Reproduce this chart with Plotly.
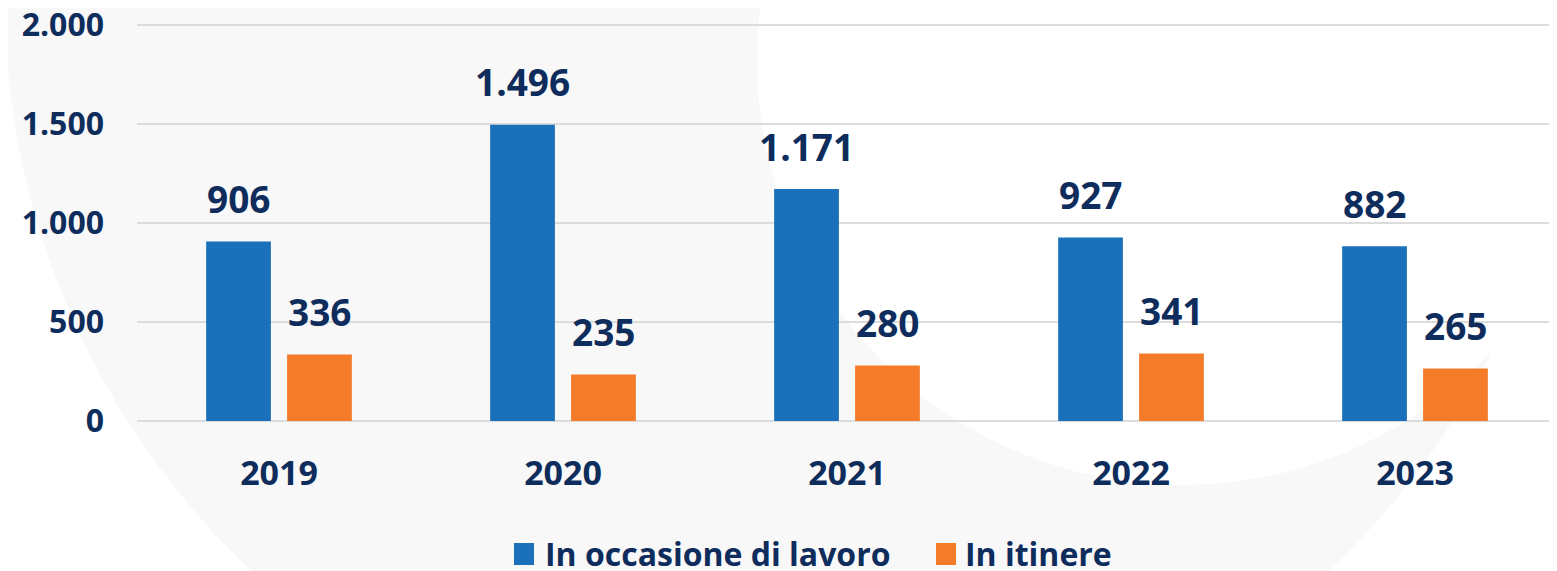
import plotly.graph_objects as go

# ---- data ----
years = ["2019", "2020", "2021", "2022", "2023"]
lavoro = [906, 1496, 1171, 927, 882]
itinere = [336, 235, 280, 341, 265]
series_names = ["In occasione di lavoro", "In itinere"]
y_ticks = [0, 500, 1000, 1500, 2000]

# ---- layout constants (screen px; page body has an 8px margin) ----
OFF = 8
W, H = 1557 - OFF, 571 - OFF
ML, MR, MT, MB = 137 - OFF, 0, 21 - OFF, 150
PW, PH = W - ML - MR, H - MT - MB
YMAX = 2020


def px(x):
    return (x - OFF - ML) / PW


def py(y):
    return (H - MB - (y - OFF)) / PH


NAVY = "#0e2d5c"
BLUE = "#1b71b9"
ORANGE = "#f47b28"
GRID = "#dcdcdc"
FONT = "Open Sans"
BARGAP, GROUPGAP = 0.43, 0.2


def fmt(v):
    return f"{v:,}".replace(",", ".")


fig = go.Figure()
colors = [BLUE, ORANGE]
for name, vals, col in zip(series_names, [lavoro, itinere], colors):
    fig.add_trace(go.Bar(x=years, y=vals, name=name,
                         marker=dict(color=col, line=dict(width=0)),
                         showlegend=False))

# data labels
slot_px = PW / len(years) * (1 - BARGAP) / 2
annotations = []
for i, vals in enumerate([lavoro, itinere]):
    off = (-0.5 if i == 0 else 0.5) * slot_px
    for idx, v in enumerate(vals):
        annotations.append(dict(x=idx, y=v, xref="x", yref="y", text=fmt(v),
                                showarrow=False, xshift=off, yshift=43,
                                yanchor="middle", xanchor="center",
                                font=dict(family=FONT, size=37, color=NAVY, weight="bold")))

# custom legend
leg = [(series_names[0], BLUE, 514, 534, 543), (series_names[1], ORANGE, 936, 956, 963)]
shapes = [
    dict(type="circle", xref="paper", yref="paper", layer="below",
         x0=px(790 - 785), x1=px(790 + 785), y0=py(785), y1=py(-785),
         fillcolor="#f8f8f8", line=dict(width=0)),
    dict(type="circle", xref="paper", yref="paper", layer="below",
         x0=px(757), x1=px(757 + 850), y0=py(60 + 425), y1=py(60 - 425),
         fillcolor="#ffffff", line=dict(width=0)),
]
for name, col, x0, x1, tx in leg:
    shapes.append(dict(type="rect", xref="paper", yref="paper",
                       x0=px(x0), x1=px(x1), y0=py(565), y1=py(543),
                       fillcolor=col, line=dict(width=0)))
    annotations.append(dict(x=px(tx), y=py(553), xref="paper", yref="paper",
                            text=name, showarrow=False, xanchor="left", yanchor="middle",
                            font=dict(family=FONT, size=32, color=NAVY, weight="bold")))

fig.update_layout(
    width=W, height=H, autosize=False,
    margin=dict(l=ML, r=MR, t=MT, b=MB, pad=0, autoexpand=False),
    paper_bgcolor="#ffffff", plot_bgcolor="rgba(0,0,0,0)",
    barmode="group", bargap=BARGAP, bargroupgap=GROUPGAP,
    separators=",.",
    font=dict(family=FONT, color=NAVY),
    shapes=shapes, annotations=annotations,
    showlegend=False,
)
fig.update_xaxes(type="category", categoryorder="array", categoryarray=years,
                 range=[-0.5, len(years) - 0.5], automargin=False,
                 showgrid=False, showline=False, ticks="", zeroline=False,
                 tickfont=dict(family=FONT, size=34, color=NAVY, weight="bold"),
                 ticklabelstandoff=29, ticklabeloverflow="allow")
fig.update_yaxes(range=[0, YMAX], tickvals=y_ticks, tickformat=",d", automargin=False,
                 showgrid=True, gridcolor=GRID, gridwidth=2,
                 zeroline=True, zerolinecolor=GRID, zerolinewidth=2,
                 showline=False, ticks="",
                 tickfont=dict(family=FONT, size=32, color=NAVY, weight="bold"),
                 ticklabelstandoff=32, ticklabeloverflow="allow")

fig.write_html("out.html")
